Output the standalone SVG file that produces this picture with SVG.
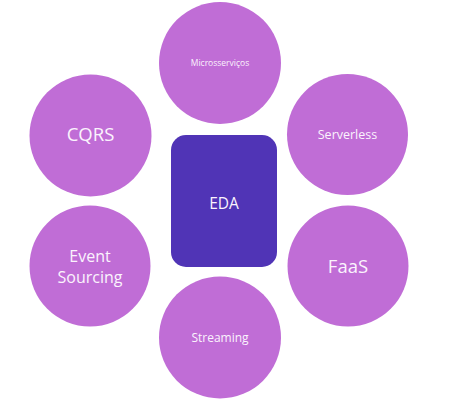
<svg xmlns="http://www.w3.org/2000/svg" width="457" height="402" viewBox="0 0 457 402">
<style>
.c{fill:#c06dd6}
.t{fill:#fbf3fd;font-family:"Open Sans",Lato,sans-serif;text-anchor:middle}
</style>
<rect width="457" height="402" fill="#fff"/>
<g id="connectors"></g>
<g id="eda"><rect x="171" y="135" width="106" height="132" rx="15" fill="#5034b6"/><text class="t" x="224" y="208.5" font-size="15.5">EDA</text></g>
<g id="microsservicos"><circle class="c" cx="220" cy="63" r="61"/><text class="t" x="220" y="66" font-size="8.5">Microsserviços</text></g>
<g id="serverless"><circle class="c" cx="347.5" cy="134.5" r="60.5"/><text class="t" x="347.5" y="139" font-size="12.5">Serverless</text></g>
<g id="cqrs"><circle class="c" cx="90.5" cy="135.5" r="61"/><text class="t" x="90.5" y="141" font-size="18.5">CQRS</text></g>
<g id="event-sourcing"><circle class="c" cx="90" cy="266" r="60.5"/><text class="t" x="90" y="261.5" font-size="16">Event</text><text class="t" x="90" y="282.5" font-size="16">Sourcing</text></g>
<g id="faas"><circle class="c" cx="348" cy="266" r="60.5"/><text class="t" x="348" y="273" font-size="18.5">FaaS</text></g>
<g id="streaming"><circle class="c" cx="220" cy="337.5" r="61"/><text class="t" x="220" y="341.5" font-size="12">Streaming</text></g>
</svg>
